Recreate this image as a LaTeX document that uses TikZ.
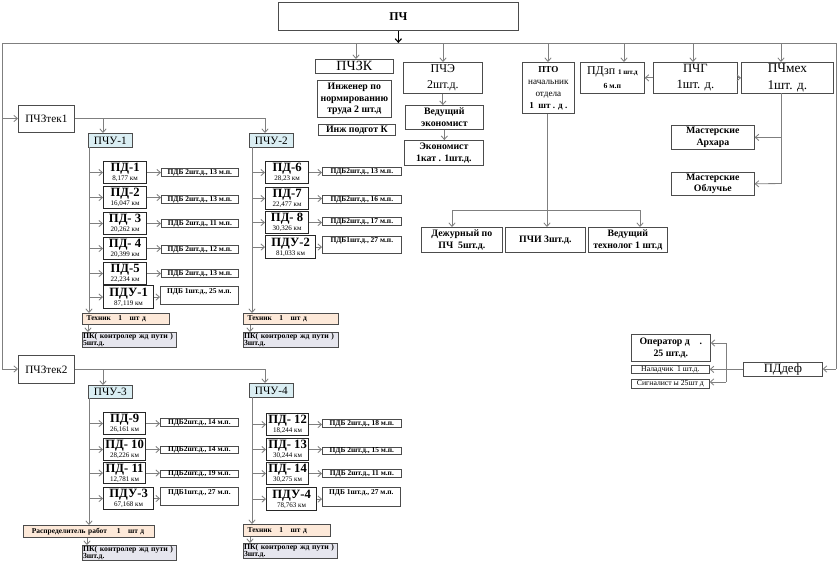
\documentclass[tikz,border=0pt]{standalone}
\usepackage{fontspec}
\setmainfont{Liberation Serif}
\usetikzlibrary{arrows.meta}

\definecolor{chublue}{HTML}{DAEEF3}
\definecolor{techpeach}{HTML}{FDE9D9}
\definecolor{pkgray}{HTML}{E6E6EE}
\definecolor{linegray}{HTML}{7F7F7F}

\newcommand{\pdlab}[2]{{\bfseries\fontsize{9}{9}\selectfont #1}\\#2}

\begin{document}
\begin{tikzpicture}[x=0.025cm, y=-0.025cm]
  \tikzset{
    box/.style={draw=black!70, line width=0.5pt, inner sep=0pt, align=center, anchor=north west},
    wh/.style 2 args={minimum width=#1*0.025cm, minimum height=#2*0.025cm},
    big/.style={font=\fontsize{8}{10}\selectfont},
    lab/.style={font=\bfseries\fontsize{7}{8.5}\selectfont},
    small/.style={font=\bfseries\fontsize{5.3}{5.6}\selectfont},
    pdbox/.style={box, draw=black!85, line width=0.8pt, font=\fontsize{5}{6.6}\selectfont},
    pdb/.style={box, small},
    pdbu/.style={box, small, text height=4.5pt, text depth=7.5pt},
    chu/.style={box, big, fill=chublue},
    techbox/.style={box, small, fill=techpeach, align=left, inner xsep=3pt},
    pkbox/.style={box, font=\bfseries\fontsize{5.5}{5}\selectfont, fill=pkgray, align=left, inner xsep=0.5pt, inner ysep=0.5pt},
    ln/.style={draw=linegray, line width=0.6pt},
    arr/.style={ln, -{Straight Barb[length=2.5pt, width=4.5pt]}}
  }
  \useasboundingbox (0,0) rectangle (840,572);

  % top level
  \node[box, font=\bfseries\fontsize{8.5}{10}\selectfont, wh={240}{28}] (pch) at (278,2) {ПЧ};
  \node[box, font=\fontsize{10}{10}\selectfont, wh={78}{14}] (pchzk) at (315,59) {ПЧЗК};
  \node[box, lab, wh={74}{37}] (ingnorm) at (317,80) {Инженер по\\нормированию\\труда 2 шт.д};
  \node[box, lab, wh={77}{11}] (ingpodg) at (318,124) {Инж подгот К};
  \node[box, font=\fontsize{8.5}{11}\selectfont, wh={79}{31}] (pche) at (403,62) {ПЧЭ\\2шт.д.};
  \node[box, lab, wh={78}{24}] (vedecon) at (405,105) {Ведущий\\экономист};
  \node[box, lab, wh={79}{25}] (econ) at (404,140) {Экономист\\1кат . 1шт.д.};
  \node[box, font=\fontsize{6.5}{8.5}\selectfont, wh={52}{51}] (pto) at (522,62) {\textbf{ПТО}\\начальник\\отдела\\\textbf{1\ \ шт . д .}};
  \node[box, font=\fontsize{8.5}{10}\selectfont, wh={64}{31}] (pdzp) at (580,62) {ПДзп {\bfseries\fontsize{5}{7}\selectfont 1 шт.д}\\{\bfseries\fontsize{5.5}{7}\selectfont 6 м.п}};
  \node[box, font=\fontsize{9}{11.5}\selectfont, wh={84}{31}] (pchg) at (653,62) {ПЧГ\\1шт. д.};
  \node[box, font=\fontsize{9.5}{11.5}\selectfont, wh={92}{31}] (pchmeh) at (741,62) {ПЧмех\\1шт. д.};
  \node[box, lab, wh={83}{24}] (masarh) at (671,125) {Мастерские\\Архара};
  \node[box, lab, wh={83}{23}] (masobl) at (671,172) {Мастерские\\Облучье};
  \node[box, lab, wh={81}{25}] (dezh) at (421,227) {Дежурный по\\ПЧ\ \ 5шт.д.};
  \node[box, lab, wh={80}{25}] (pchi) at (505,227) {ПЧИ 3шт.д.};
  \node[box, lab, wh={79}{25}] (vedtech) at (588,227) {Ведущий\\технолог 1 шт.д};

  % first group
  \node[box, big, wh={56}{27}] (tek1) at (18,105) {ПЧЗтек1};
  \node[chu, wh={44}{14}] (pchu1) at (88,133) {ПЧУ-1};
  \node[chu, wh={44}{14}] (pchu2) at (249,133) {ПЧУ-2};

  \node[pdbox, wh={43}{22}] (pd1) at (103,161) {\pdlab{ПД-1}{8,177 км}};
  \node[pdbox, wh={43}{22}] (pd2) at (103,186) {\pdlab{ПД-2}{16,047 км}};
  \node[pdbox, wh={43}{22}] (pd3) at (103,212) {\pdlab{ПД- 3}{20,262 км}};
  \node[pdbox, wh={43}{22}] (pd4) at (103,237) {\pdlab{ПД- 4}{20,399 км}};
  \node[pdbox, wh={43}{22}] (pd5) at (103,262) {\pdlab{ПД-5}{22,234 км}};
  \node[pdbox, wh={50}{23}] (pdu1) at (103,285) {\pdlab{ПДУ-1}{87,119 км}};
  \node[pdb, wh={77}{8}] (pdb1) at (161,168) {ПДБ 2шт.д., 13 м.п.};
  \node[pdb, wh={77}{8}] (pdb2) at (161,195) {ПДБ 2шт.д., 13 м.п.};
  \node[pdb, wh={77}{8}] (pdb3) at (161,219) {ПДБ 2шт.д., 11 м.п.};
  \node[pdb, wh={77}{8}] (pdb4) at (161,245) {ПДБ 2шт.д., 12 м.п.};
  \node[pdb, wh={77}{8}] (pdb5) at (161,269) {ПДБ 2шт.д., 13 м.п.};
  \node[pdbu, wh={78}{18}] (pdbu1) at (160,286) {ПДБ 1шт.д., 25 м.п.};
  \node[techbox, text width=1.965cm, wh={87}{11}] (tech1) at (82,313) {Техник\ \ \ 1\ \ \ шт д};
  \node[pkbox, text width=2.315cm, wh={94}{15}] (pk1) at (82,332) {ПК( контролер жд пути )\\5шт.д.};

  \node[pdbox, wh={43}{22}] (pd6) at (265,161) {\pdlab{ПД-6}{28,23 км}};
  \node[pdbox, wh={43}{22}] (pd7) at (265,187) {\pdlab{ПД-7}{22,477 км}};
  \node[pdbox, wh={43}{22}] (pd8) at (265,211) {\pdlab{ПД- 8}{30,326 км}};
  \node[pdbox, wh={50}{23}] (pdu2) at (265,235) {\pdlab{ПДУ-2}{81,033 км}};
  \node[pdb, wh={79}{8}] (pdb6) at (322,167) {ПДБ2шт.д., 13 м.п.};
  \node[pdb, wh={79}{8}] (pdb7) at (322,195) {ПДБ2шт.д., 16 м.п.};
  \node[pdb, wh={79}{8}] (pdb8) at (322,217) {ПДБ2шт.д., 17 м.п.};
  \node[pdbu, wh={79}{17}] (pdbu2) at (322,236) {ПДБ1шт.д., 27 м.п.};
  \node[techbox, text width=2.165cm, wh={95}{11}] (tech2) at (243,313) {Техник\ \ \ 1\ \ \ шт д};
  \node[pkbox, text width=2.34cm, wh={95}{15}] (pk2) at (243,332) {ПК( контролер жд пути )\\3шт.д.};

  % second group
  \node[box, big, wh={56}{28}] (tek2) at (18,355) {ПЧЗтек2};
  \node[chu, wh={44}{13}] (pchu3) at (88,385) {ПЧУ-3};
  \node[chu, wh={44}{14}] (pchu4) at (249,383) {ПЧУ-4};

  \node[pdbox, wh={42}{22}] (pd9) at (103,412) {\pdlab{ПД-9}{26,161 км}};
  \node[pdbox, wh={42}{22}] (pd10) at (103,438) {\pdlab{ПД- 10}{28,226 км}};
  \node[pdbox, wh={42}{21}] (pd11) at (103,462) {\pdlab{ПД- 11}{12,781 км}};
  \node[pdbox, wh={50}{22}] (pdu3) at (103,487) {\pdlab{ПДУ-3}{67,168 км}};
  \node[pdb, wh={78}{8}] (pdb9) at (160,418) {ПДБ2шт.д., 14 м.п.};
  \node[pdb, wh={78}{7}] (pdb10) at (160,446) {ПДБ2шт.д., 14 м.п.};
  \node[pdb, wh={78}{7}] (pdb11) at (160,470) {ПДБ2шт.д., 19 м.п.};
  \node[pdbu, wh={78}{18}] (pdbu3) at (160,487) {ПДБ1шт.д., 27 м.п.};
  \node[techbox, inner xsep=6pt, text width=2.855cm, wh={131}{12}] (distr) at (23,525) {Распределитель работ\ \ \ \ 1\ \ \ шт д};
  \node[pkbox, text width=2.315cm, wh={94}{13}] (pk3) at (82,545) {ПК( контролер жд пути )\\3шт.д.};

  \node[pdbox, wh={42}{22}] (pd12) at (266,413) {\pdlab{ПД- 12}{18,244 км}};
  \node[pdbox, wh={42}{22}] (pd13) at (266,438) {\pdlab{ПД- 13}{30,244 км}};
  \node[pdbox, wh={42}{22}] (pd14) at (266,462) {\pdlab{ПД- 14}{30,275 км}};
  \node[pdbox, wh={50}{23}] (pdu4) at (266,487) {\pdlab{ПДУ-4}{78,763 км}};
  \node[pdb, wh={79}{8}] (pdb12) at (322,419) {ПДБ 2шт.д., 18 м.п.};
  \node[pdb, wh={79}{7}] (pdb13) at (322,447) {ПДБ 2шт.д., 15 м.п.};
  \node[pdb, wh={79}{8}] (pdb14) at (322,469) {ПДБ 2шт.д., 11 м.п.};
  \node[pdbu, wh={78}{19}] (pdbu4) at (322,487) {ПДБ 1шт.д., 27 м.п.};
  \node[techbox, text width=1.965cm, wh={87}{12}] (tech4) at (243,524) {Техник\ \ \ 1\ \ \ шт д};
  \node[pkbox, text width=2.315cm, wh={94}{15}] (pk4) at (243,543) {ПК( контролер жд пути )\\3шт.д.};

  % defect group
  \node[box, lab, wh={79}{27}] (oper) at (631,334) {Оператор д\ \ \ \ .\\25 шт.д.};
  \node[box, font=\fontsize{5.5}{6}\selectfont, wh={78}{8}] (nalad) at (631,365) {Наладчик\ \ 1 шт.д.};
  \node[box, font=\fontsize{5.5}{6}\selectfont, wh={78}{9}] (signal) at (631,379) {Сигналист ы 25шт д};
  \node[box, font=\fontsize{9}{10}\selectfont, wh={79}{14}] (pddef) at (743,362) {ПДдеф};

  % main bus
  \coordinate (busl) at (2,43);
  \coordinate (busr) at (836,43);
  \draw[arr, draw=black, line width=0.8pt] (pch.south) -- (pch.south |- busl);
  \draw[ln] (busl) -- (busr);
  \coordinate (b1) at (356,43);
  \coordinate (b2) at (443,43);
  \coordinate (b3) at (548,43);
  \coordinate (b4) at (624,43);
  \coordinate (b5) at (693,43);
  \coordinate (b6) at (781,43);
  \draw[arr] (b1) -- (b1 |- pchzk.north);
  \draw[arr] (b2) -- (b2 |- pche.north);
  \draw[arr] (b3) -- (b3 |- pto.north);
  \draw[arr] (b4) -- (b4 |- pdzp.north);
  \draw[arr] (b5) -- (b5 |- pchg.north);
  \draw[arr] (b6) -- (b6 |- pchmeh.north);

  \draw[arr] (pche.south) -- (pche.south |- vedecon.north);
  \draw[arr] (vedecon.south) -- (vedecon.south |- econ.north);
  \draw[arr] (pchg.west) -- (pdzp.east);
  \draw[arr] (pchg.east) -- (pchmeh.west);

  \coordinate (m0) at (781,93);
  \coordinate (m2) at (781,183.5);
  \draw[ln] (m0) -- (m2);
  \draw[arr] (m0 |- masarh.east) -- (masarh.east);
  \draw[arr] (m2) -- (masobl.east);

  \coordinate (p0) at (452,210);
  \coordinate (p1) at (547,210);
  \coordinate (p2) at (640,210);
  \draw[ln] (pto.south -| p1) -- (p1);
  \draw[ln] (p0) -- (p2);
  \draw[arr] (p0) -- (p0 |- dezh.north);
  \draw[arr] (p1) -- (p1 |- pchi.north);
  \draw[arr] (p2) -- (p2 |- vedtech.north);

  % left side
  \coordinate (l1) at (2,118.5);
  \coordinate (l2) at (2,369);
  \draw[ln] (busl) -- (l2);
  \draw[arr] (l1) -- (l1 -| tek1.west);
  \draw[arr] (l2) -- (l2 -| tek2.west);

  \coordinate (t1) at (265,133);
  \coordinate (t1b) at (103,133);
  \draw[arr] (tek1.east) -| (t1);
  \draw[arr] (tek1.east -| t1b) -- (t1b);
  \coordinate (t2) at (265,383);
  \coordinate (t2b) at (103,385);
  \draw[arr] (tek2.east) -| (t2);
  \draw[arr] (tek2.east -| t2b) -- (t2b);

  % columns
  \coordinate (c1) at (89,147);
  \draw[arr] (c1) -- (c1 |- tech1.north);
  \foreach \n in {pd1,pd2,pd3,pd4,pd5,pdu1}
    \draw[arr] (c1 |- \n.west) -- (\n.west);
  \coordinate (c2) at (252,147);
  \draw[arr] (c2) -- (c2 |- tech2.north);
  \foreach \n in {pd6,pd7,pd8,pdu2}
    \draw[arr] (c2 |- \n.west) -- (\n.west);
  \coordinate (c3) at (89,398);
  \draw[arr] (c3) -- (c3 |- distr.north);
  \foreach \n in {pd9,pd10,pd11,pdu3}
    \draw[arr] (c3 |- \n.west) -- (\n.west);
  \coordinate (c4) at (252,397);
  \draw[arr] (c4) -- (c4 |- tech4.north);
  \foreach \n in {pd12,pd13,pd14,pdu4}
    \draw[arr] (c4 |- \n.west) -- (\n.west);

  \foreach \a/\b in {pd1/pdb1,pd2/pdb2,pd3/pdb3,pd4/pdb4,pd5/pdb5,pdu1/pdbu1,
                     pd6/pdb6,pd7/pdb7,pd8/pdb8,pdu2/pdbu2,
                     pd9/pdb9,pd10/pdb10,pd11/pdb11,pdu3/pdbu3,
                     pd12/pdb12,pd13/pdb13,pd14/pdb14,pdu4/pdbu4}
    \draw[arr] (\a.east) -- (\a.east -| \b.west);

  \coordinate (k1) at (88,332);
  \coordinate (k2) at (250,332);
  \coordinate (k3) at (87,545);
  \coordinate (k4) at (250,543);
  \draw[arr] (k1 |- tech1.south) -- (k1);
  \draw[arr] (k2 |- tech2.south) -- (k2);
  \draw[arr] (k3 |- distr.south) -- (k3);
  \draw[arr] (k4 |- tech4.south) -- (k4);

  % right side
  \coordinate (r1) at (836,369);
  \draw[ln] (busr) -- (r1);
  \draw[arr] (r1) -- (r1 -| pddef.east);
  \coordinate (d1) at (726,343);
  \coordinate (d2) at (726,382);
  \draw[ln] (d1) -- (d2);
  \draw[arr] (pddef.west) -- (nalad.east);
  \draw[arr] (d1) -- (d1 -| oper.east);
  \draw[arr] (d2) -- (d2 -| signal.east);
\end{tikzpicture}
\end{document}
